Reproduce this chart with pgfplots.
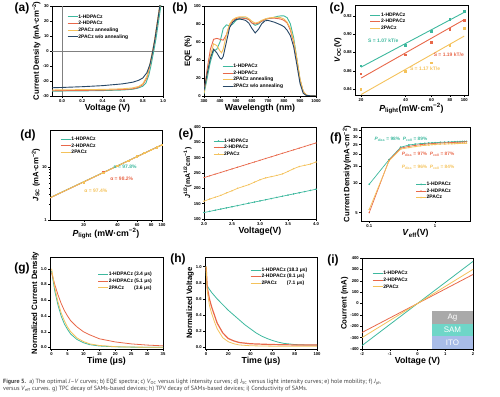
\documentclass[border=0pt]{standalone}
\usepackage{pgfplots}
\pgfplotsset{compat=1.18}
\usepackage{fontspec}
\setmainfont{Liberation Sans}
\newfontfamily\capfont{PT Sans}
\definecolor{cT}{HTML}{3DB89E}
\definecolor{cR}{HTML}{E8684A}
\definecolor{cY}{HTML}{F4C25B}
\definecolor{cD}{HTML}{274766}
\definecolor{agc}{HTML}{A9A9A9}
\definecolor{samc}{HTML}{6FD6C8}
\definecolor{itoc}{HTML}{A8BCE8}
\pgfplotsset{
  every axis/.append style={
    scale only axis,
    axis line style={line width=0.5bp},
    tick style={line width=0.4bp, black},
    major tick length=2bp, minor tick length=1.2bp,
    tick align=outside, tick pos=left,
    /pgf/number format/assume math mode=true,
    /pgf/number format/1000 sep={},
    tick label style={font=\bfseries\fontsize{4.2}{5}\selectfont, inner sep=1bp},
    xlabel style={font=\bfseries\fontsize{8.8}{10}\selectfont, inner sep=1bp},
    ylabel style={font=\bfseries\fontsize{7.8}{9}\selectfont, inner sep=1bp},
    legend style={draw=none, fill=none, font=\bfseries\fontsize{5}{6}\selectfont,
      legend cell align=left, row sep=1.3bp, inner sep=0pt,
      nodes={inner sep=0.3bp, text height=3.7bp, text depth=1bp}},
    legend image code/.code={\draw[mark repeat=2,mark phase=2,#1] plot coordinates {(0bp,0bp) (5bp,0bp) (10bp,0bp)};},
    every axis plot/.append style={line width=0.9bp},
  },
}
\begin{document}
\begin{tikzpicture}
\path[use as bounding box] (0,0) rectangle (500bp,397bp);

% ---------------- (a) ----------------
\begin{axis}[at={(52bp,301bp)}, anchor=south west, width=111bp, height=90bp,
  xmin=-0.1, xmax=1.0, ymin=-30, ymax=30,
  xtick={0,0.2,0.4,0.6,0.8,1.0}, ytick={-30,-20,-10,0,10,20,30},
  xticklabel style={/pgf/number format/.cd,fixed,fixed zerofill,precision=1},
  xlabel={Voltage (V)}, ylabel={Current Density (mA·cm\textsuperscript{−2})},
  legend style={at={(0.135,0.91)},anchor=north west}]
\draw[gray, line width=0.4bp] (axis cs:0,-30) -- (axis cs:0,30);
\draw[gray, line width=0.4bp] (axis cs:-0.1,0) -- (axis cs:1.0,0);
\addplot[cT] coordinates {(-0.1,-26.8)(0,-26.7)(0.2,-26.6)(0.4,-26.4)(0.6,-26.0)(0.7,-25.5)(0.75,-24.8)(0.8,-23.5)(0.83,-21.5)(0.86,-16)(0.88,-10)(0.9,-3)(0.91,0.5)(0.93,8)(0.95,17)(0.97,26)(0.98,31)};
\addlegendentry{1-HDPACz}
\addplot[cR] coordinates {(-0.1,-26.5)(0,-26.4)(0.4,-26.1)(0.6,-25.7)(0.7,-25.2)(0.75,-24.4)(0.8,-22.5)(0.84,-18)(0.87,-10)(0.89,-3)(0.9,0.5)(0.92,8)(0.94,17)(0.96,26)(0.975,32)};
\addlegendentry{2-HDPACz}
\addplot[cY] coordinates {(-0.1,-26.0)(0,-25.9)(0.4,-25.6)(0.6,-25.2)(0.7,-24.6)(0.76,-23.6)(0.8,-21.8)(0.84,-17)(0.87,-9)(0.89,-2)(0.9,1)(0.92,9)(0.94,18)(0.96,27)(0.97,32)};
\addlegendentry{2PACz annealing}
\addplot[cD] coordinates {(-0.1,-24.5)(0,-24.3)(0.2,-23.8)(0.4,-23.1)(0.6,-21.9)(0.7,-20.8)(0.76,-19.5)(0.8,-18.0)(0.84,-14.5)(0.87,-9)(0.89,-3)(0.9,0.5)(0.92,8)(0.94,17)(0.96,26)(0.97,31)};
\addlegendentry{2PACz w/o annealing}
\end{axis}

% ---------------- (b) ----------------
\begin{axis}[at={(204bp,301bp)}, anchor=south west, width=112bp, height=90bp,
  xmin=300, xmax=1000, ymin=0, ymax=100,
  xtick={300,400,...,1000}, ytick={0,20,...,100},
  xlabel={Wavelength (nm)}, ylabel={EQE (\%)},
  legend style={at={(0.16,0.36)},anchor=north west}]
\addplot[cT] coordinates {(300,2)(320,20)(340,38)(360,50)(380,52)(400,60)(420,75)(440,79)(460,78)(480,80)(500,84)(520,86)(540,87)(560,86.5)(580,85)(600,81)(620,78.5)(640,80)(660,83)(680,85)(700,86)(720,86.5)(740,87.5)(760,88.5)(780,89)(800,89)(820,87)(840,80)(860,65)(880,42)(900,18)(920,5)(940,1)(960,0.2)(1000,0)};
\addlegendentry{1-HDPACz}
\addplot[cR] coordinates {(300,5)(320,30)(340,52)(360,63)(380,64)(400,63)(420,62)(440,68)(460,79)(480,84)(500,86)(520,87)(540,86.5)(560,86)(580,85)(600,81)(620,80)(640,81)(660,83)(680,85)(700,86)(720,86.5)(740,86.5)(760,86)(780,85.5)(800,84)(820,81)(840,73)(860,60)(880,40)(900,18)(920,5)(940,1)(960,0.2)(1000,0)};
\addlegendentry{2-HDPACz}
\addplot[cY] coordinates {(300,3)(320,25)(340,45)(360,58)(380,56)(400,50)(410,48)(420,52)(440,68)(460,80)(480,85)(500,87)(520,88)(540,88)(560,88)(580,86)(600,83)(620,81)(640,82)(660,84)(680,85.5)(700,86.5)(720,87)(740,87.5)(760,87.5)(780,87)(800,85.5)(820,82)(840,75)(860,62)(880,42)(900,19)(920,5)(940,1)(960,0.2)(1000,0)};
\addlegendentry{2PACz annealing}
\addplot[cD] coordinates {(300,6)(320,25)(340,42)(360,52)(380,48)(400,42)(410,41)(420,44)(440,60)(460,76)(480,82)(500,85)(520,85.5)(540,85)(560,84)(580,81)(600,75)(620,70)(640,74)(660,80)(680,83.5)(700,84)(720,83)(740,82)(760,80.5)(780,79)(800,77)(820,73)(840,67)(860,55)(880,35)(900,14)(920,3)(940,0.5)(1000,0)};
\addlegendentry{2PACz w/o annealing}
\end{axis}

% ---------------- (c) ----------------
\begin{axis}[at={(355bp,302bp)}, anchor=south west, width=113bp, height=90bp,
  xmode=log, xmin=18.2, xmax=106, ymin=0.8335, ymax=0.932,
  xtick={20,40,60,80,100}, xticklabels={20,40,60,80,100}, minor xtick={},
  ytick={0.84,0.86,0.88,0.90,0.92},
  yticklabel style={/pgf/number format/.cd,fixed,fixed zerofill,precision=2},
  xlabel={\textit{P}\textsubscript{light}(mW·cm\textsuperscript{−2})}, ylabel={\textit{V}\textsubscript{OC}(V)},
  legend style={at={(0.13,0.92)},anchor=north west}]
\addplot[cT] coordinates {(20,0.8640)(100,0.9240)};
\addlegendentry{1-HDPACz}
\addplot[cR] coordinates {(20,0.8520)(100,0.9160)};
\addlegendentry{2-HDPACz}
\addplot[cY] coordinates {(20,0.8340)(100,0.8980)};
\addlegendentry{2PACz}
\addplot[only marks, mark=square*, mark size=0.8bp, cT, forget plot] coordinates {(20,0.8655)(40,0.8876)(60,0.9030)(80,0.9160)(100,0.9250)};
\addplot[only marks, mark=square*, mark size=0.8bp, cR, forget plot] coordinates {(20,0.8567)(40,0.8775)(60,0.8910)(80,0.9050)(100,0.9150)};
\addplot[only marks, mark=square*, mark size=0.8bp, cY, forget plot] coordinates {(20,0.8397)(40,0.8590)(60,0.8687)(80,0.8880)(100,0.9065)};
\node[cT, font=\bfseries\fontsize{5}{6}\selectfont] at (rel axis cs:0.25,0.6) {S = 1.07 kT/e};
\node[cR, font=\bfseries\fontsize{5}{6}\selectfont] at (rel axis cs:0.83,0.444) {S = 1.19 kT/e};
\node[cY, font=\bfseries\fontsize{5}{6}\selectfont] at (rel axis cs:0.62,0.289) {S = 1.17 kT/e};
\end{axis}

% ---------------- (d) ----------------
\begin{axis}[at={(50bp,177bp)}, anchor=south west, width=112bp, height=90bp,
  xmode=log, ymode=log, xmin=10, xmax=100, ymin=1, ymax=49,
  xtick={20,40,60,80,100}, xticklabels={20,40,60,80,100},
  ytick={1,10}, yticklabels={1,10},
  xlabel={\textit{P}\textsubscript{light} (mW·cm\textsuperscript{−2})}, ylabel={\textit{J}\textsubscript{SC} (mA·cm\textsuperscript{−2})},
  legend style={at={(0.09,0.93)},anchor=north west}]
\addplot[cT] coordinates {(10,2.62)(100,25.9)};
\addlegendentry{1-HDPACz}
\addplot[cR] coordinates {(10,2.60)(100,25.8)};
\addlegendentry{2-HDPACz}
\addplot[cY] coordinates {(10,2.61)(100,25.7)};
\addlegendentry{2PACz}
\addplot[only marks, mark=square*, mark size=0.7bp, cT, forget plot] coordinates {(20,5.15)(30,7.8)(40,10.4)(50,13.0)(60,15.6)(70,18.2)(80,20.8)(90,23.3)(100,25.9)};
\addplot[only marks, mark=square*, mark size=0.7bp, cR, forget plot] coordinates {(20,5.1)(30,7.75)(40,10.35)(50,12.95)(60,15.55)(70,18.1)(80,20.7)(90,23.2)(100,25.8)};
\addplot[only marks, mark=square*, mark size=0.7bp, cY, forget plot] coordinates {(20,5.05)(30,7.7)(40,10.3)(50,12.9)(60,15.5)(70,18.0)(80,20.6)(90,23.1)(100,25.7)};
\node[cT, font=\bfseries\fontsize{5}{6}\selectfont] at (rel axis cs:0.67,0.59) {α = 97.8\%};
\node[cR, font=\bfseries\fontsize{5}{6}\selectfont] at (rel axis cs:0.64,0.456) {α = 98.2\%};
\node[cY, font=\bfseries\fontsize{5}{6}\selectfont] at (rel axis cs:0.41,0.32) {α = 97.4\%};
\end{axis}

% ---------------- (e) ----------------
\begin{axis}[at={(204bp,178bp)}, anchor=south west, width=112bp, height=92bp,
  xmin=2, xmax=4, ymin=100, ymax=400,
  xtick={2.0,2.5,3.0,3.5,4.0}, ytick={100,150,...,400},
  xticklabel style={/pgf/number format/.cd,fixed,fixed zerofill,precision=1},
  xlabel={Voltage(V)}, ylabel={\textit{J}\textsuperscript{1/2}(mA\textsuperscript{1/2}cm\textsuperscript{−1})},
  ylabel style={font=\bfseries\fontsize{7}{8}\selectfont},
  legend style={at={(0.08,0.88)},anchor=north west},
  every axis plot/.append style={line width=0.7bp, mark size=0.6bp, mark options={line width=0.3bp}}]
\addplot[cT, mark=*] coordinates {(2.0,121)(2.1,124.8)(2.2,128.6)(2.3,132.4)(2.4,136.2)(2.5,140)(2.6,143.8)(2.7,147.6)(2.8,151.4)(2.9,155.2)(3.0,159)(3.1,162.8)(3.2,166.6)(3.3,170.4)(3.4,174.2)(3.5,178)(3.6,181.8)(3.7,185.6)(3.8,189.4)(3.9,193.2)(4.0,197)};
\addlegendentry{1-HDPACz}
\addplot[cR, mark=asterisk] coordinates {(2.0,235)(2.1,240.6)(2.2,246.3)(2.3,251.9)(2.4,257.6)(2.5,263.3)(2.6,268.9)(2.7,274.5)(2.8,280.2)(2.9,285.8)(3.0,291.5)(3.1,297.2)(3.2,302.8)(3.3,308.5)(3.4,314.1)(3.5,319.8)(3.6,325.4)(3.7,331)(3.8,336.7)(3.9,342.4)(4.0,348)};
\addlegendentry{2-HDPACz}
\addplot[cY, mark=triangle*] coordinates {(2.0,158)(2.1,165)(2.2,171)(2.3,177)(2.4,185)(2.5,192)(2.6,200)(2.7,206)(2.8,212)(2.9,220)(3.0,228)(3.1,234)(3.2,238)(3.3,242)(3.4,247)(3.5,255)(3.6,264)(3.7,271)(3.8,275)(3.9,279)(4.0,286)};
\addlegendentry{2PACz}
\end{axis}

% ---------------- (f) ----------------
\begin{axis}[at={(361bp,176bp)}, anchor=south west, width=109bp, height=94bp,
  xmode=log, ymode=log, xmin=0.075, xmax=3.4, ymin=4.1, ymax=38,
  xtick={0.1,1}, xticklabels={0.1,1},
  ytick={5,10,15,20,25,30,35}, yticklabels={5,10,15,20,25,30,35}, minor ytick={},
  xlabel={\textit{V}\textsubscript{eff}(V)}, ylabel={Current Density(mA·cm\textsuperscript{−2})},
  legend style={at={(0.5,0.42)},anchor=north west},
  every axis plot/.append style={line width=0.7bp, mark size=0.7bp, mark options={line width=0.3bp}}]
\addplot[cT, mark=*] coordinates {(0.1,9.8)(0.2,17.5)(0.3,23.5)(0.4,24.8)(0.5,25.3)(0.6,25.6)(0.7,25.8)(0.8,26.0)(0.9,26.1)(1.0,26.2)(1.2,26.4)(1.4,26.5)(1.6,26.6)(1.8,26.7)(2.0,26.8)(2.2,26.85)(2.4,26.9)(2.6,26.95)(2.8,27.0)(3.0,27.0)};
\addlegendentry{1-HDPACz}
\addplot[cR, mark=asterisk] coordinates {(0.1,5.0)(0.2,17.3)(0.3,23.0)(0.4,24.0)(0.5,24.6)(0.6,25.0)(0.7,25.3)(0.8,25.5)(0.9,25.7)(1.0,25.8)(1.2,26.0)(1.4,26.1)(1.6,26.2)(1.8,26.3)(2.0,26.4)(2.2,26.5)(2.4,26.55)(2.6,26.6)(2.8,26.7)(3.0,26.8)};
\addlegendentry{2-HDPACz}
\addplot[cY, mark=triangle*] coordinates {(0.1,5.4)(0.2,17.0)(0.3,22.5)(0.4,23.3)(0.5,23.9)(0.6,24.3)(0.7,24.6)(0.8,24.8)(0.9,25.0)(1.0,25.1)(1.2,25.3)(1.4,25.4)(1.6,25.5)(1.8,25.55)(2.0,25.6)(2.2,25.7)(2.4,25.75)(2.6,25.8)(2.8,25.85)(3.0,25.9)};
\addlegendentry{2PACz}
\node[cT, font=\bfseries\fontsize{4.8}{6}\selectfont] at (rel axis cs:0.367,0.872) {\textit{P}\textsubscript{diss} = 98\%\ \ \textit{P}\textsubscript{coll} = 89\%};
\node[cR, font=\bfseries\fontsize{4.8}{6}\selectfont] at (rel axis cs:0.615,0.713) {\textit{P}\textsubscript{diss} = 97\%\ \ \textit{P}\textsubscript{coll} = 87\%};
\node[cY, font=\bfseries\fontsize{4.8}{6}\selectfont] at (rel axis cs:0.615,0.574) {\textit{P}\textsubscript{diss} = 96\%\ \ \textit{P}\textsubscript{coll} = 84\%};
\end{axis}

% ---------------- (g) ----------------
\begin{axis}[at={(50bp,48bp)}, anchor=south west, width=113bp, height=92bp,
  xmin=-0.5, xmax=35, ymin=-0.02, ymax=1.15,
  xtick={0,5,...,35}, ytick={0,0.2,0.4,0.6,0.8,1.0},
  yticklabel style={/pgf/number format/.cd,fixed,fixed zerofill,precision=1},
  xlabel={Time (μs)}, ylabel={Normalized Current Density},
  legend style={at={(0.42,0.84)},anchor=north west},
  every axis plot/.append style={line width=0.8bp}]
\addplot[cT] coordinates {(0,0.97)(1,0.72)(2,0.54)(3,0.40)(4,0.30)(5,0.23)(6,0.17)(8,0.10)(10,0.06)(12,0.035)(15,0.018)(20,0.008)(25,0.004)(30,0.002)(35,0.001)};
\addlegendentry{1-HDPACz (3.4 μs)}
\addplot[cR] coordinates {(0,0.95)(1,0.80)(2,0.67)(3,0.56)(4,0.47)(5,0.40)(6,0.34)(8,0.26)(10,0.20)(12,0.16)(15,0.11)(20,0.07)(25,0.045)(30,0.03)(35,0.02)};
\addlegendentry{2-HDPACz (5.1 μs)}
\addplot[cY] coordinates {(0,1.0)(1,0.76)(2,0.58)(3,0.44)(4,0.34)(5,0.26)(6,0.20)(8,0.12)(10,0.075)(12,0.045)(15,0.025)(20,0.01)(25,0.005)(30,0.003)(35,0.002)};
\addlegendentry{2PACz\hspace{10bp}(3.6 μs)}
\end{axis}

% ---------------- (h) ----------------
\begin{axis}[at={(205bp,48bp)}, anchor=south west, width=112bp, height=92bp,
  xmin=-1, xmax=100, ymin=-0.02, ymax=1.12,
  xtick={0,20,...,100}, ytick={0,0.2,0.4,0.6,0.8,1.0},
  yticklabel style={/pgf/number format/.cd,fixed,fixed zerofill,precision=1},
  xlabel={Time (μs)}, ylabel={Normalized Voltage},
  legend style={at={(0.4,0.89)},anchor=north west},
  every axis plot/.append style={line width=0.8bp}]
\addplot[cT] coordinates {(0,1.0)(0.5,0.78)(2,0.74)(5,0.68)(10,0.60)(15,0.53)(20,0.46)(25,0.40)(30,0.34)(35,0.28)(40,0.23)(45,0.18)(50,0.14)(55,0.11)(60,0.085)(65,0.065)(70,0.05)(80,0.035)(90,0.03)(100,0.03)};
\addlegendentry{1-HDPACz (18.3 μs)}
\addplot[cR, line width=1.2bp] coordinates {(0,1.0)(1,0.75)(3,0.6)(5,0.5)(8,0.38)(10,0.30)(15,0.18)(20,0.11)(25,0.08)(30,0.06)(40,0.045)(50,0.04)(60,0.035)(80,0.03)(100,0.03)};
\addlegendentry{2-HDPACz (8.1 μs)}
\addplot[cY] coordinates {(0,1.0)(1,0.70)(3,0.52)(5,0.42)(8,0.30)(10,0.23)(15,0.12)(20,0.07)(25,0.045)(30,0.03)(40,0.02)(60,0.015)(100,0.015)};
\addlegendentry{2PACz\hspace{10bp}(7.1 μs)}
\end{axis}

% ---------------- (i) ----------------
\begin{axis}[at={(362bp,48bp)}, anchor=south west, width=111bp, height=91bp,
  xmin=-2, xmax=2, ymin=-400, ymax=400,
  xtick={-2,-1,0,1,2}, ytick={-400,-300,...,400},
  xlabel={Voltage (V)}, ylabel={Courrent (mA)},
  legend style={at={(0.09,0.86)},anchor=north west},
  every axis plot/.append style={line width=0.8bp}]
\fill[agc] (axis cs:0.52,-70) rectangle (axis cs:2,-180);
\fill[samc] (axis cs:0.52,-180) rectangle (axis cs:2,-290);
\fill[itoc] (axis cs:0.52,-290) rectangle (axis cs:2,-400);
\node[white, font=\fontsize{8}{9}\selectfont] at (axis cs:1.26,-125) {Ag};
\node[white, font=\fontsize{8}{9}\selectfont] at (axis cs:1.26,-235) {SAM};
\node[white, font=\fontsize{8}{9}\selectfont] at (axis cs:1.26,-345) {ITO};
\addplot[cT] coordinates {(-2,-370)(2,370)};
\addlegendentry{1-HDPACz}
\addplot[cR] coordinates {(-2,-255)(2,255)};
\addlegendentry{2-HDPACz}
\addplot[cY] coordinates {(-2,-300)(2,300)};
\addlegendentry{2PACz}
\end{axis}

% panel labels
\begin{scope}[every node/.style={font=\bfseries\fontsize{12}{12}\selectfont, inner sep=0}]
\node at (22bp,389bp) {(a)};
\node at (180bp,389bp) {(b)};
\node at (337bp,389bp) {(c)};
\node at (28bp,262bp) {(d)};
\node at (186bp,263bp) {(e)};
\node at (336bp,259bp) {(f)};
\node at (22bp,129bp) {(g)};
\node at (178bp,138bp) {(h)};
\node at (333bp,137bp) {(i)};
\end{scope}

% caption
\node[anchor=west, inner sep=0, text=black!75, font=\capfont\fontsize{6.1}{7}\selectfont] at (3bp,15bp) {{\bfseries Figure 5.}\ \ a) The optimal \textit{J}–\textit{V} curves; b) EQE spectra; c) \textit{V}\textsubscript{OC} versus light intensity curves; d) \textit{J}\textsubscript{SC} versus light intensity curves; e) hole mobility; f) \textit{J}\textsubscript{ph}};
\node[anchor=west, inner sep=0, text=black!75, font=\capfont\fontsize{6.1}{7}\selectfont] at (3bp,7.7bp) {versus \textit{V}\textsubscript{eff} curves. g) TPC decay of SAMs-based devices; h) TPV decay of SAMs-based devices; i) Conductivity of SAMs.};
\end{tikzpicture}
\end{document}
